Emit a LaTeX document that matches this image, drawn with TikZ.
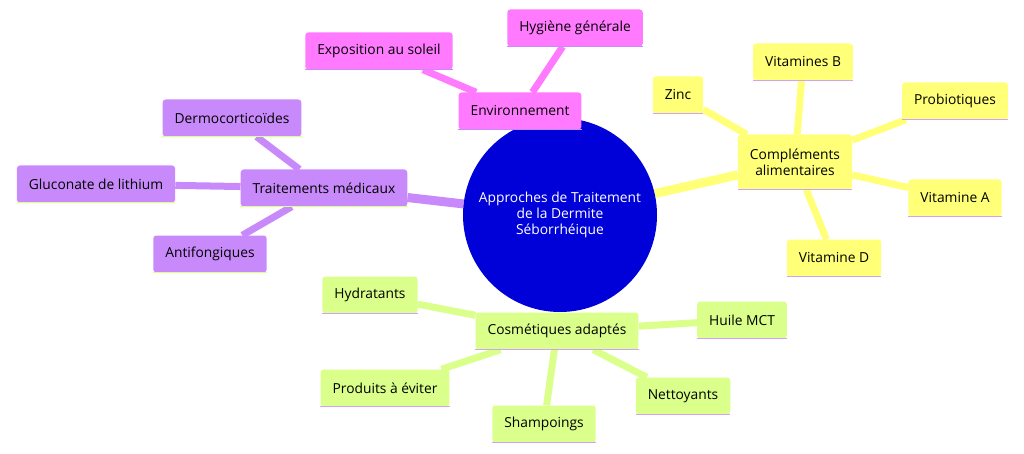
\documentclass[tikz,border=0pt]{standalone}
\usepackage{fontspec}
\setmainfont{Open Sans}
\usetikzlibrary{backgrounds}
\definecolor{rootc}{HTML}{0000D9}
\definecolor{pinkc}{HTML}{FF7AFF}
\definecolor{purpc}{HTML}{C88AFA}
\definecolor{yellc}{HTML}{FFFF78}
\definecolor{greenc}{HTML}{DAFF8A}
\begin{document}
\begin{tikzpicture}[x=1pt,y=-1pt,
  box/.style={fill=#1, rounded corners=3pt, inner xsep=12pt, minimum height=37pt,
    font=\fontsize{13.8}{16}\selectfont, align=center},
  main/.style={line width=9pt, draw=#1},
  leaf/.style={line width=7pt, draw=#1},
  uline/.style={line width=1.5pt, draw=#1}]
\useasboundingbox (0,0) rectangle (1024,454);
% nodes
\node[circle, fill=rootc, minimum size=194pt, text=white, align=center,
  font=\fontsize{13.8}{16}\selectfont] (root) at (560,215)
  {Approches de Traitement\\de la Dermite\\Séborrhéique};
\node[box=pinkc] (env) at (520,111) {Environnement};
\node[box=pinkc] (sol) at (379,51) {Exposition au soleil};
\node[box=pinkc] (hyg) at (575,28) {Hygiène générale};
\node[box=purpc] (med) at (324,188) {Traitements médicaux};
\node[box=purpc] (derm) at (232,118) {Dermocorticoïdes};
\node[box=purpc] (glu) at (96,184) {Gluconate de lithium};
\node[box=purpc] (anti) at (210,254) {Antifongiques};
\node[box=yellc, minimum height=55pt] (comp) at (795,162) {Compléments\\alimentaires};
\node[box=yellc] (zinc) at (678,95) {Zinc};
\node[box=yellc] (vitb) at (803,62) {Vitamines B};
\node[box=yellc] (pro) at (955,101) {Probiotiques};
\node[box=yellc] (vita) at (955,198) {Vitamine A};
\node[box=yellc] (vitd) at (834,258) {Vitamine D};
\node[box=greenc] (cos) at (557,331) {Cosmétiques adaptés};
\node[box=greenc] (hyd) at (370,295) {Hydratants};
\node[box=greenc] (mct) at (742,320) {Huile MCT};
\node[box=greenc] (prod) at (385,388) {Produits à éviter};
\node[box=greenc] (net) at (683,396) {Nettoyants};
\node[box=greenc] (sham) at (544,424) {Shampoings};
% underlines
\foreach \n in {env,sol,hyg} \draw[uline=purpc] (\n.south west) -- (\n.south east);
\foreach \n in {med,derm,glu,anti} \draw[uline=greenc] (\n.south west) -- (\n.south east);
\foreach \n in {comp,zinc,vitb,pro,vita,vitd} \draw[uline=purpc!80] (\n.south west) -- (\n.south east);
\foreach \n in {cos,hyd,mct,prod,net,sham} \draw[uline=purpc!80] (\n.south west) -- (\n.south east);
% connectors
\begin{scope}[on background layer]
  \draw[main=pinkc] (root) -- (env);
  \draw[main=purpc] (root) -- (med);
  \draw[main=yellc] (root) -- (comp);
  \draw[main=greenc] (root) -- (cos);
  \foreach \n in {sol,hyg} \draw[leaf=pinkc] (env) -- (\n);
  \foreach \n in {derm,glu,anti} \draw[leaf=purpc] (med) -- (\n);
  \foreach \n in {zinc,vitb,pro,vita,vitd} \draw[leaf=yellc] (comp) -- (\n);
  \foreach \n in {hyd,mct,prod,net,sham} \draw[leaf=greenc] (cos) -- (\n);
\end{scope}
\end{tikzpicture}
\end{document}
